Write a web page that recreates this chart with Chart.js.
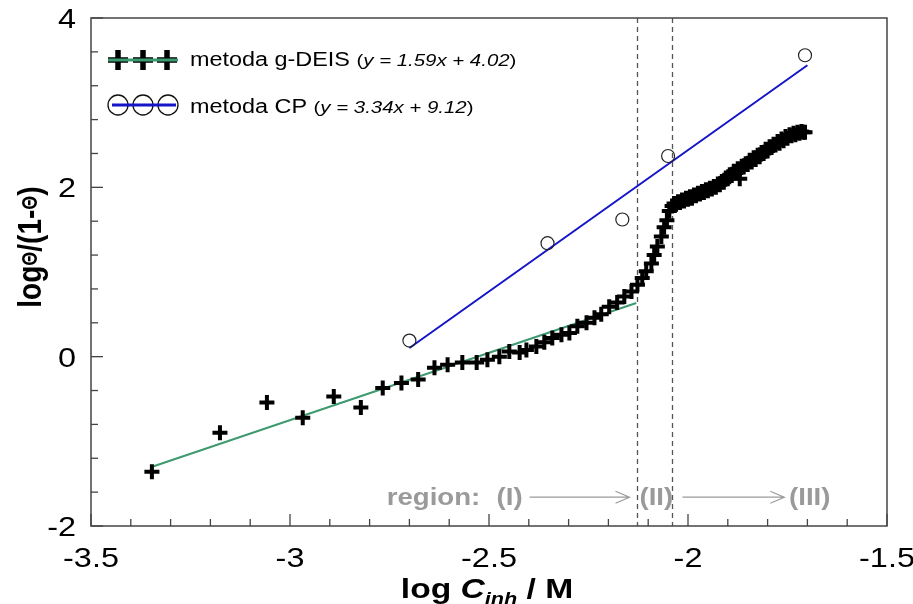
<!DOCTYPE html>
<html>
<head>
<meta charset="utf-8">
<script src="https://cdn.jsdelivr.net/npm/chart.js@4.4.1/dist/chart.umd.min.js"></script>
<style>
html,body{margin:0;padding:0;background:#ffffff;}
#wrap{width:913px;height:604px;}
</style>
</head>
<body>
<div id="wrap"><canvas id="c" width="913" height="604"></canvas></div>
<script>
// ---------------- data ----------------
const xTickLabels = ['-3.5', '-3', '-2.5', '-2', '-1.5'];
const yTickLabels = ['-2', '0', '2', '4'];

const deisX = [
  -3.347, -3.176, -3.058, -2.968, -2.890, -2.822, -2.767, -2.720, -2.678, -2.637,
  -2.604, -2.567, -2.531, -2.504, -2.474, -2.449, -2.423, -2.406, -2.381, -2.361,
  -2.341, -2.318, -2.298, -2.278, -2.255, -2.235, -2.218, -2.198, -2.178, -2.160,
  -2.142, -2.127, -2.115, -2.105, -2.092, -2.085, -2.077, -2.067, -2.060, -2.053,
  -2.047, -2.040, -2.035, -2.030, -2.025, -2.020, -2.015, -2.010, -2.005, -2.000,
  -1.995, -1.990, -1.985, -1.980, -1.975, -1.970, -1.965, -1.960, -1.955, -1.950,
  -1.945, -1.940, -1.935, -1.930, -1.925, -1.920, -1.915, -1.910, -1.905, -1.900,
  -1.895, -1.890, -1.885, -1.880, -1.875, -1.870, -1.865, -1.860, -1.855, -1.850,
  -1.845, -1.840, -1.835, -1.830, -1.825, -1.820, -1.815, -1.810, -1.805, -1.800,
  -1.795, -1.790, -1.785, -1.780, -1.775, -1.770, -1.765, -1.760, -1.755, -1.750,
  -1.745, -1.740, -1.735, -1.730, -1.725, -1.720, -1.715, -1.710, -1.706, -1.870
];
const deisY = [
  -1.36, -0.90, -0.54, -0.72, -0.47, -0.60, -0.37, -0.31, -0.27, -0.13,
  -0.095, -0.07, -0.07, -0.035, 0.00, 0.06, 0.05, 0.08, 0.12, 0.17,
  0.22, 0.26, 0.28, 0.36, 0.40, 0.46, 0.50, 0.59, 0.64, 0.71,
  0.77, 0.85, 0.93, 1.01, 1.10, 1.20, 1.30, 1.42, 1.53, 1.61,
  1.72, 1.78, 1.81, 1.80, 1.83, 1.82, 1.85, 1.84, 1.87, 1.86,
  1.89, 1.87, 1.91, 1.90, 1.93, 1.92, 1.95, 1.94, 1.97, 1.96,
  1.99, 1.98, 2.01, 2.00, 2.04, 2.03, 2.07, 2.06, 2.11, 2.10,
  2.15, 2.14, 2.19, 2.17, 2.22, 2.21, 2.25, 2.24, 2.28, 2.27,
  2.32, 2.30, 2.35, 2.33, 2.38, 2.36, 2.41, 2.40, 2.45, 2.43,
  2.48, 2.47, 2.51, 2.50, 2.54, 2.52, 2.57, 2.55, 2.60, 2.58,
  2.62, 2.61, 2.64, 2.62, 2.65, 2.64, 2.66, 2.65, 2.65, 2.10
];

const cpX = [-2.700, -2.353, -2.165, -2.050, -1.706];
const cpY = [0.19, 1.34, 1.62, 2.37, 3.56];

const fitDEIS = [1.59, 4.02];          // slope, intercept
const fitDEISRange = [-3.35, -2.13];
const fitCP = [3.34, 9.12];
const fitCPRange = [-2.70, -1.70];

const regionBounds = [-2.127, -2.040];
const regionLabels = ['region:', '(I)', '(II)', '(III)'];
const legendNames = ['metoda g-DEIS', 'metoda CP'];
const legendEqs = ['y = 1.59x + 4.02', 'y = 3.34x + 9.12'];

// ---------------- helpers ----------------
const FONT = '"Liberation Sans", Arial, sans-serif';
const SX = 1.2; // horizontal stretch of text, as in the reference
const GREEN = '#3d9a70';
const BLUE = '#1414c8';

function fitLine(coef, range) {
  return range.map(x => ({ x: x, y: coef[0] * x + coef[1] }));
}
function pts(xs, ys) { return xs.map((x, i) => ({ x: x, y: ys[i] })); }

function sText(ctx, txt, x, y, font, align, color) {
  ctx.save();
  ctx.font = font;
  ctx.fillStyle = color || '#000';
  ctx.textBaseline = 'alphabetic';
  const w = ctx.measureText(txt).width * SX;
  let x0 = x;
  if (align === 'center') x0 = x - w / 2;
  else if (align === 'right') x0 = x - w;
  ctx.translate(x0, y);
  ctx.scale(SX, 1);
  ctx.textAlign = 'left';
  ctx.fillText(txt, 0, 0);
  ctx.restore();
  return w;
}
function sWidth(ctx, txt, font) {
  ctx.save(); ctx.font = font; const w = ctx.measureText(txt).width * SX; ctx.restore(); return w;
}

// ---------------- decorations plugin ----------------
const deco = {
  id: 'deco',
  beforeDatasetsDraw(chart) {
    const ctx = chart.ctx, xs = chart.scales.x, ys = chart.scales.y, a = chart.chartArea;
    ctx.save();
    ctx.strokeStyle = '#555';
    ctx.lineWidth = 1.3;
    ctx.setLineDash([5, 4]);
    regionBounds.forEach(v => {
      const px = Math.round(xs.getPixelForValue(v)) + 0.5;
      ctx.beginPath(); ctx.moveTo(px, a.top); ctx.lineTo(px, a.bottom); ctx.stroke();
    });
    ctx.restore();
  },
  afterDraw(chart) {
    const ctx = chart.ctx, xs = chart.scales.x, ys = chart.scales.y, a = chart.chartArea;
    ctx.save();
    // frame
    ctx.strokeStyle = '#444';
    ctx.lineWidth = 1.5;
    ctx.strokeRect(a.left, a.top, a.right - a.left, a.bottom - a.top);
    // inward ticks
    ctx.lineWidth = 1.3;
    for (let i = 0; i <= 20; i++) {
      const v = xs.min + i * 0.1;
      const px = xs.getPixelForValue(v);
      const len = (i % 5 === 0) ? 12 : 7;
      ctx.beginPath(); ctx.moveTo(px, a.bottom); ctx.lineTo(px, a.bottom - len); ctx.stroke();
    }
    for (let i = 0; i <= 15; i++) {
      const v = ys.min + i * 0.4;
      const py = ys.getPixelForValue(v);
      const len = (i % 5 === 0) ? 12 : 7;
      ctx.beginPath(); ctx.moveTo(a.left, py); ctx.lineTo(a.left + len, py); ctx.stroke();
    }
    // tick labels
    const tf = '27px ' + FONT;
    xTickLabels.forEach(t => {
      sText(ctx, t, xs.getPixelForValue(parseFloat(t)), a.bottom + 41, tf, 'center');
    });
    yTickLabels.forEach(t => {
      sText(ctx, t, a.left - 15, ys.getPixelForValue(parseFloat(t)) + 10, tf, 'right');
    });
    // x title: log C_inh / M
    const bf = 'bold 28px ' + FONT, bif = 'italic bold 28px ' + FONT, sf = 'italic bold 18px ' + FONT;
    const parts = [['log ', bf, 0], ['C', bif, 0], ['inh', sf, 7], [' / M', bf, 0]];
    let tw = 0; parts.forEach(p => tw += sWidth(ctx, p[0], p[1]));
    let cx = 487 - tw / 2;
    parts.forEach(p => { cx += sText(ctx, p[0], cx, 598 + p[2], p[1], 'left'); });

    // y title (rotated): log Θ /(1- Θ )
    ctx.save();
    ctx.translate(41, 247);
    ctx.rotate(-Math.PI / 2);
    ctx.scale(1, SX);
    ctx.fillStyle = '#000';
    ctx.textAlign = 'left';
    ctx.textBaseline = 'alphabetic';
    const yf = 'bold 28px ' + FONT, tf2 = 'bold 18px ' + FONT;
    const yparts = [['log', yf, 0], ['\u0398', tf2, -3], ['/(1-', yf, 0], ['\u0398', tf2, -3], [')', yf, 0]];
    let yw = 0;
    yparts.forEach(p => { ctx.font = p[1]; yw += ctx.measureText(p[0]).width; });
    let yx = -yw / 2;
    yparts.forEach(p => { ctx.font = p[1]; ctx.fillText(p[0], yx, p[2]); yx += ctx.measureText(p[0]).width; });
    ctx.restore();

    // legend
    ctx.strokeStyle = '#000';
    ctx.lineWidth = 5.5;
    ctx.lineCap = 'butt';
    [118, 143, 167].forEach(c => {
      ctx.beginPath();
      ctx.moveTo(c - 10, 60); ctx.lineTo(c + 10, 60);
      ctx.moveTo(c, 50); ctx.lineTo(c, 70);
      ctx.stroke();
    });
    ctx.strokeStyle = GREEN; ctx.lineWidth = 3;
    ctx.beginPath(); ctx.moveTo(108, 60); ctx.lineTo(178, 60); ctx.stroke();
    ctx.strokeStyle = '#111'; ctx.lineWidth = 1.3;
    [118, 143, 168].forEach(c => {
      ctx.beginPath(); ctx.arc(c, 105, 10, 0, Math.PI * 2); ctx.stroke();
    });
    ctx.strokeStyle = BLUE; ctx.lineWidth = 3;
    ctx.beginPath(); ctx.moveTo(112, 105); ctx.lineTo(176, 105); ctx.stroke();

    const lf = '19.5px ' + FONT, ef = 'italic 17px ' + FONT, pf = '17px ' + FONT;
    [[66, 0], [113, 1]].forEach(([by, k]) => {
      let x = 190;
      x += sText(ctx, legendNames[k] + ' ', x, by, lf, 'left');
      x += sText(ctx, '(', x, by, pf, 'left');
      x += sText(ctx, legendEqs[k], x, by, ef, 'left');
      sText(ctx, ')', x, by, pf, 'left');
    });

    // region annotation
    const gf = 'bold 23px ' + FONT, gray = '#9a9a9a';
    const by = ys.getPixelForValue(-1.75);
    const ay = ys.getPixelForValue(-1.66);
    sText(ctx, regionLabels[0], xs.getPixelForValue(-2.757), by, gf, 'left', gray);
    sText(ctx, regionLabels[1], xs.getPixelForValue(-2.481), by, gf, 'left', gray);
    sText(ctx, regionLabels[2], xs.getPixelForValue(-2.122), by, gf, 'left', gray);
    sText(ctx, regionLabels[3], xs.getPixelForValue(-1.746), by, gf, 'left', gray);
    ctx.strokeStyle = gray; ctx.lineWidth = 1.2;
    [[-2.398, -2.147], [-2.014, -1.758]].forEach(([x0, x1]) => {
      const p0 = xs.getPixelForValue(x0), p1 = xs.getPixelForValue(x1);
      ctx.beginPath();
      ctx.moveTo(p0, ay); ctx.lineTo(p1, ay);
      ctx.moveTo(p1 - 14, ay - 6); ctx.lineTo(p1, ay); ctx.lineTo(p1 - 14, ay + 6);
      ctx.stroke();
    });
    ctx.restore();
  }
};

// ---------------- chart ----------------
new Chart(document.getElementById('c'), {
  type: 'scatter',
  data: {
    datasets: [
      {
        label: legendNames[1],
        data: pts(cpX, cpY),
        pointStyle: 'circle',
        pointRadius: 6.5,
        borderWidth: 1.2,
        borderColor: '#222',
        backgroundColor: 'rgba(255,255,255,0)',
        order: 1
      },
      {
        type: 'line',
        label: 'fit CP',
        data: fitLine(fitCP, fitCPRange),
        borderColor: BLUE,
        borderWidth: 2,
        pointRadius: 0,
        fill: false,
        order: 2
      },
      {
        label: legendNames[0],
        data: pts(deisX, deisY),
        pointStyle: 'cross',
        pointRadius: 7.5,
        borderWidth: 4,
        borderColor: '#000',
        backgroundColor: '#000',
        order: 3
      },
      {
        type: 'line',
        label: 'fit g-DEIS',
        data: fitLine(fitDEIS, fitDEISRange),
        borderColor: GREEN,
        borderWidth: 2,
        pointRadius: 0,
        fill: false,
        order: 4
      }
    ]
  },
  options: {
    responsive: false,
    animation: false,
    devicePixelRatio: 1,
    layout: { padding: { top: 18, right: 26, left: 0, bottom: 0 } },
    plugins: { legend: { display: false }, tooltip: { enabled: false } },
    scales: {
      x: {
        type: 'linear', min: -3.5, max: -1.5,
        ticks: { display: false, stepSize: 0.5 },
        grid: { display: false },
        border: { display: false },
        afterFit: s => { s.height = 78; }
      },
      y: {
        type: 'linear', min: -2, max: 4,
        ticks: { display: false, stepSize: 2 },
        grid: { display: false },
        border: { display: false },
        afterFit: s => { s.width = 91; }
      }
    }
  },
  plugins: [deco]
});
</script>
</body>
</html>
